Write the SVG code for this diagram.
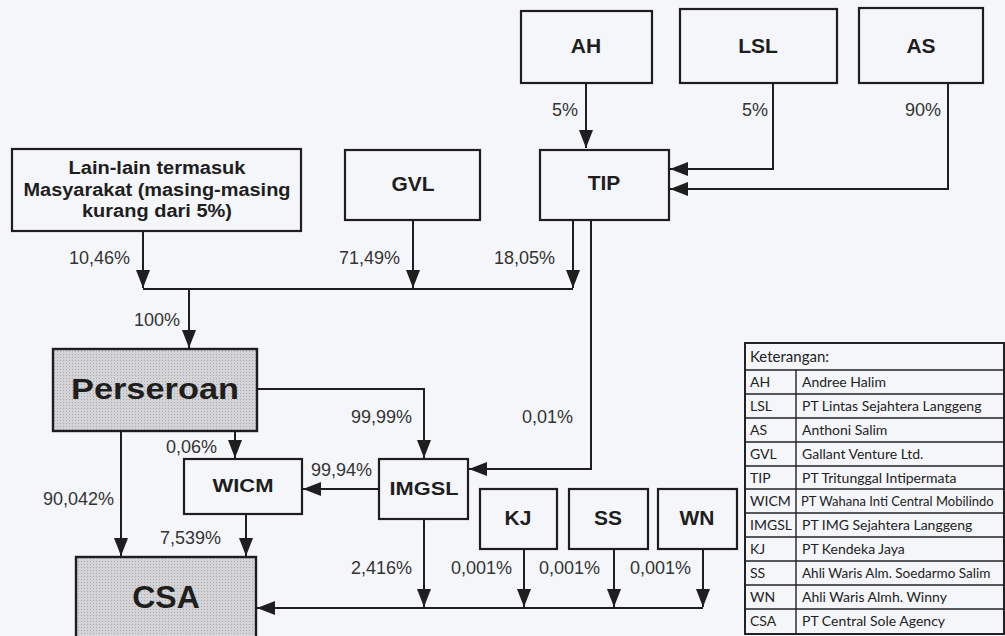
<svg xmlns="http://www.w3.org/2000/svg" width="1005" height="636" viewBox="0 0 1005 636">
<defs>
<marker id="ah" markerUnits="userSpaceOnUse" viewBox="0 0 18 14" refX="18" refY="7" markerWidth="18" markerHeight="14" orient="auto">
<path d="M0,0 L18,7 L0,14 z" fill="#1e1e1e"/>
</marker>
<pattern id="dots" width="3" height="3" patternUnits="userSpaceOnUse">
<rect width="3" height="3" fill="#d4d4d6"/>
<rect width="1" height="1" fill="#a9a9ad"/>
</pattern>
<style>
.box{fill:none;stroke:#1e1e1e;stroke-width:2.2}
.gbox{fill:url(#dots);stroke:#1e1e1e;stroke-width:2.4}
.nt{font-family:"Liberation Sans",Arial,sans-serif;font-weight:bold;fill:#1e1e1e;text-anchor:middle}
.lb{font-family:"Liberation Sans",Arial,sans-serif;font-size:18px;fill:#333;text-anchor:end}
.cn{fill:none;stroke:#1e1e1e;stroke-width:2}
.lg{font-family:Lato,"Liberation Sans",sans-serif;font-size:14px;fill:#222}
.tl{stroke:#222;stroke-width:1.4}
</style>
</defs>
<rect width="1005" height="636" fill="#f5f6f9"/>

<g id="connectors">
<path class="cn" d="M586,83 V148" marker-end="url(#ah)"/>
<path class="cn" d="M773,83 V169 H670" marker-end="url(#ah)"/>
<path class="cn" d="M948,83 V189 H670" marker-end="url(#ah)"/>
<path class="cn" d="M143,231 V288" marker-end="url(#ah)"/>
<path class="cn" d="M413,220 V288" marker-end="url(#ah)"/>
<path class="cn" d="M573,220 V288" marker-end="url(#ah)"/>
<path class="cn" d="M143,289 H573"/>
<path class="cn" d="M189,289 V348" marker-end="url(#ah)"/>
<path class="cn" d="M257,389 H424 V458" marker-end="url(#ah)"/>
<path class="cn" d="M235,431 V458" marker-end="url(#ah)"/>
<path class="cn" d="M591,220 V469 H469" marker-end="url(#ah)"/>
<path class="cn" d="M379,489 H303" marker-end="url(#ah)"/>
<path class="cn" d="M121,431 V556" marker-end="url(#ah)"/>
<path class="cn" d="M246,514 V556" marker-end="url(#ah)"/>
<path class="cn" d="M424,519 V607" marker-end="url(#ah)"/>
<path class="cn" d="M524,549 V607" marker-end="url(#ah)"/>
<path class="cn" d="M614,549 V607" marker-end="url(#ah)"/>
<path class="cn" d="M703,549 V607" marker-end="url(#ah)"/>
<path class="cn" d="M703,608 H257" marker-end="url(#ah)"/>
<text class="lb" x="578" y="116">5%</text>
<text class="lb" x="768" y="116">5%</text>
<text class="lb" x="941" y="116">90%</text>
<text class="lb" x="130" y="264">10,46%</text>
<text class="lb" x="400" y="264">71,49%</text>
<text class="lb" x="555" y="264">18,05%</text>
<text class="lb" x="180" y="326">100%</text>
<text class="lb" x="412" y="423">99,99%</text>
<text class="lb" x="573" y="423">0,01%</text>
<text class="lb" x="217" y="453">0,06%</text>
<text class="lb" x="372" y="476">99,94%</text>
<text class="lb" x="114" y="505">90,042%</text>
<text class="lb" x="221" y="544">7,539%</text>
<text class="lb" x="412" y="574">2,416%</text>
<text class="lb" x="512" y="574">0,001%</text>
<text class="lb" x="600" y="574">0,001%</text>
<text class="lb" x="691" y="574">0,001%</text>
</g>

<g id="node-lain">
<rect class="box" x="12" y="149" width="289" height="82"/>
<text class="nt" x="157" y="174" font-size="18" textLength="177" lengthAdjust="spacingAndGlyphs">Lain-lain termasuk</text>
<text class="nt" x="157" y="196" font-size="18" textLength="267" lengthAdjust="spacingAndGlyphs">Masyarakat (masing-masing</text>
<text class="nt" x="157" y="217" font-size="18" textLength="150" lengthAdjust="spacingAndGlyphs">kurang dari 5%)</text>
</g>
<g id="node-gvl">
<rect class="box" x="345" y="150" width="135" height="70"/>
<text class="nt" x="413" y="191" font-size="21">GVL</text>
</g>
<g id="node-ah">
<rect class="box" x="521" y="11" width="131" height="72"/>
<text class="nt" x="586" y="53" font-size="21">AH</text>
</g>
<g id="node-lsl">
<rect class="box" x="680" y="9" width="157" height="74"/>
<text class="nt" x="758" y="53" font-size="21">LSL</text>
</g>
<g id="node-as">
<rect class="box" x="859" y="8" width="124" height="75"/>
<text class="nt" x="921" y="53" font-size="21">AS</text>
</g>
<g id="node-tip">
<rect class="box" x="540" y="150" width="129" height="70"/>
<text class="nt" x="604" y="190" font-size="21">TIP</text>
</g>
<g id="node-perseroan">
<rect class="gbox" x="53" y="349" width="204" height="82"/>
<text class="nt" x="155" y="399" font-size="30" textLength="168" lengthAdjust="spacingAndGlyphs">Perseroan</text>
</g>
<g id="node-wicm">
<rect class="box" x="184" y="459" width="118" height="55"/>
<text class="nt" x="243" y="492" font-size="19" textLength="61" lengthAdjust="spacingAndGlyphs">WICM</text>
</g>
<g id="node-imgsl">
<rect class="box" x="379" y="459" width="89" height="60"/>
<text class="nt" x="424" y="495" font-size="19" textLength="69" lengthAdjust="spacingAndGlyphs">IMGSL</text>
</g>
<g id="node-kj">
<rect class="box" x="480" y="489" width="77" height="60"/>
<text class="nt" x="518" y="525" font-size="21">KJ</text>
</g>
<g id="node-ss">
<rect class="box" x="569" y="489" width="79" height="60"/>
<text class="nt" x="608" y="525" font-size="21">SS</text>
</g>
<g id="node-wn">
<rect class="box" x="658" y="489" width="79" height="60"/>
<text class="nt" x="697" y="525" font-size="21">WN</text>
</g>
<g id="node-csa">
<rect class="gbox" x="76" y="557" width="180" height="90"/>
<text class="nt" x="166" y="608" font-size="32">CSA</text>
</g>

<g id="legend">
<rect x="745" y="343" width="259" height="291" fill="none" stroke="#222" stroke-width="2"/>
<line class="tl" x1="745" y1="370" x2="1004" y2="370"/>
<line class="tl" x1="745" y1="394" x2="1004" y2="394"/>
<line class="tl" x1="745" y1="418" x2="1004" y2="418"/>
<line class="tl" x1="745" y1="442" x2="1004" y2="442"/>
<line class="tl" x1="745" y1="466" x2="1004" y2="466"/>
<line class="tl" x1="745" y1="489" x2="1004" y2="489"/>
<line class="tl" x1="745" y1="513" x2="1004" y2="513"/>
<line class="tl" x1="745" y1="537" x2="1004" y2="537"/>
<line class="tl" x1="745" y1="561" x2="1004" y2="561"/>
<line class="tl" x1="745" y1="585" x2="1004" y2="585"/>
<line class="tl" x1="745" y1="609" x2="1004" y2="609"/>
<line class="tl" x1="796" y1="370" x2="796" y2="634"/>
<text class="lg" x="750" y="362" style="font-size:15px">Keterangan:</text>
<text class="lg" x="750" y="387">AH</text><text class="lg" x="802" y="387">Andree Halim</text>
<text class="lg" x="750" y="411">LSL</text><text class="lg" x="802" y="411">PT Lintas Sejahtera Langgeng</text>
<text class="lg" x="750" y="435">AS</text><text class="lg" x="802" y="435">Anthoni Salim</text>
<text class="lg" x="750" y="459">GVL</text><text class="lg" x="802" y="459">Gallant Venture Ltd.</text>
<text class="lg" x="750" y="483">TIP</text><text class="lg" x="802" y="483">PT Tritunggal Intipermata</text>
<text class="lg" x="750" y="506">WICM</text><text class="lg" x="801" y="506" style="font-size:13px">PT Wahana Inti Central Mobilindo</text>
<text class="lg" x="750" y="530">IMGSL</text><text class="lg" x="802" y="530">PT IMG Sejahtera Langgeng</text>
<text class="lg" x="750" y="554">KJ</text><text class="lg" x="802" y="554">PT Kendeka Jaya</text>
<text class="lg" x="750" y="578">SS</text><text class="lg" x="802" y="578" style="font-size:13.5px">Ahli Waris Alm. Soedarmo Salim</text>
<text class="lg" x="750" y="602">WN</text><text class="lg" x="802" y="602">Ahli Waris Almh. Winny</text>
<text class="lg" x="750" y="626">CSA</text><text class="lg" x="802" y="626">PT Central Sole Agency</text>
</g>
</svg>
